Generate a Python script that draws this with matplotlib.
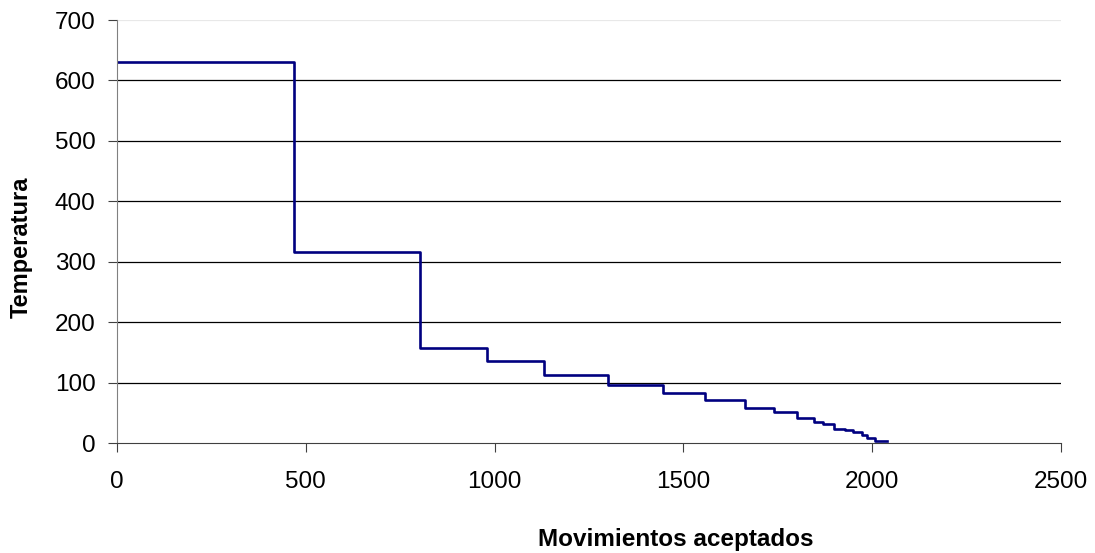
import matplotlib.pyplot as plt

# step start positions (movimientos aceptados) and temperature for each step
step_x = [0, 469, 802, 979, 1130, 1301, 1446, 1557, 1664, 1740, 1800,
          1846, 1870, 1898, 1928, 1950, 1972, 1985, 2007]
temps = [631, 316, 157, 135, 112, 96, 82, 71, 58, 51, 41,
         35, 31, 24, 21, 18, 13, 9, 4]
x_end = 2038

plt.rcParams['font.family'] = ['Liberation Sans', 'DejaVu Sans']

fig = plt.figure(figsize=(10.95, 5.53), dpi=100)
ax = fig.add_axes([0.1068, 0.1989, 0.8622, 0.7649])

xs = step_x + [x_end]
ys = temps + [temps[-1]]
ax.step(xs, ys, where='post', color='#000080', linewidth=1.9)

ax.set_xlim(0, 2500)
ax.set_ylim(0, 700)
ax.set_xticks([0, 500, 1000, 1500, 2000, 2500])
ax.set_yticks([0, 100, 200, 300, 400, 500, 600, 700])
ax.tick_params(labelsize=17.5, length=6.5, width=0.8, color='#404040')
ax.tick_params(axis='y', pad=9)
ax.tick_params(axis='x', pad=14)

for v in [100, 200, 300, 400, 500, 600]:
    ax.axhline(v, color='black', linewidth=0.9, zorder=0)
ax.axhline(700, color='#e8e8e8', linewidth=0.9, zorder=0)

ax.spines['top'].set_visible(False)
ax.spines['right'].set_visible(False)
ax.spines['left'].set_color('#808080')
ax.spines['bottom'].set_color('#404040')

fig.text(0.019, 0.553, 'Temperatura', rotation=90, fontsize=17,
         fontweight='bold', ha='center', va='center')
fig.text(0.617, 0.0127, 'Movimientos aceptados', fontsize=17.5,
         fontweight='bold', ha='center', va='baseline')

fig.savefig('out.png', dpi=100)
